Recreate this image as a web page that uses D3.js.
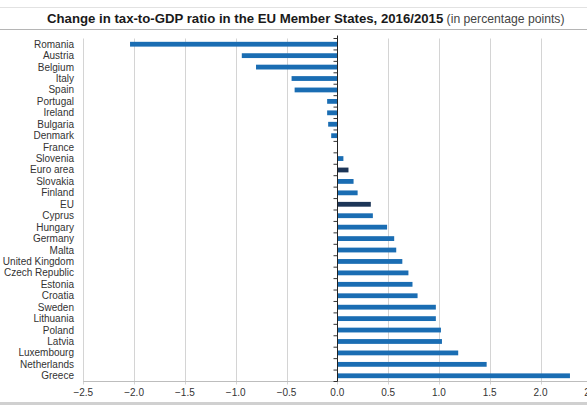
<!DOCTYPE html>
<html>
<head>
<meta charset="utf-8">
<script src="https://cdn.jsdelivr.net/npm/d3@7"></script>
<style>
  body { margin: 0; background: #fff; }
  svg { display: block; font-family: "Liberation Sans", Arial, sans-serif; }
</style>
</head>
<body>
<div id="chart"></div>
<script>
// countries, sorted as in the source chart
const countries = [
  "Romania", "Austria", "Belgium", "Italy", "Spain", "Portugal", "Ireland",
  "Bulgaria", "Denmark", "France", "Slovenia", "Euro area", "Slovakia",
  "Finland", "EU", "Cyprus", "Hungary", "Germany", "Malta", "United Kingdom",
  "Czech Republic", "Estonia", "Croatia", "Sweden", "Lithuania", "Poland",
  "Latvia", "Luxembourg", "Netherlands", "Greece"
];
// change in tax-to-GDP ratio, percentage points
const changes = [
  -2.04, -0.94, -0.80, -0.45, -0.42, -0.10, -0.10,
  -0.09, -0.06, 0.0, 0.06, 0.11, 0.16,
  0.20, 0.33, 0.35, 0.49, 0.56, 0.58, 0.64,
  0.70, 0.74, 0.79, 0.97, 0.97, 1.02,
  1.03, 1.19, 1.47, 2.29
];
const aggregates = ["Euro area", "EU"];
const xTicks = [-2.5, -2.0, -1.5, -1.0, -0.5, 0.0, 0.5, 1.0, 1.5, 2.0, 2.5];

const width = 587, height = 408;
const margin = { top: 38.5, left: 83.3, bottom: 381.5, right: 591.3 };

const data = countries.map((c, i) => ({ name: c, value: changes[i] }));

const x = d3.scaleLinear().domain([-2.5, 2.5]).range([margin.left, margin.right]);
const y = d3.scaleBand().domain(countries).range([margin.top, margin.bottom]).paddingInner(0.58).paddingOuter(0.29);

const svg = d3.select("#chart")
  .append("svg")
  .attr("width", width)
  .attr("height", height);

// frame lines
svg.append("line").attr("x1", 0).attr("x2", width).attr("y1", 7.5).attr("y2", 7.5)
  .attr("stroke", "#e2e2e2");
svg.append("line").attr("x1", 0).attr("x2", width).attr("y1", 29.5).attr("y2", 29.5)
  .attr("stroke", "#b5b5b5");
svg.append("rect").attr("x", 0).attr("y", 402).attr("width", width).attr("height", 3)
  .attr("fill", "#d0d0d0");

// title
const title = svg.append("text")
  .attr("x", 47)
  .attr("y", 22.5)
  .attr("fill", "#1a1a1a");
title.append("tspan")
  .attr("font-weight", "bold")
  .attr("font-size", "13.2px")
  .text("Change in tax-to-GDP ratio in the EU Member States, 2016/2015");
title.append("tspan")
  .attr("font-size", "12.2px")
  .attr("fill", "#444")
  .text(" (in percentage points)");

// vertical gridlines
svg.append("g")
  .selectAll("line")
  .data(xTicks)
  .join("line")
  .attr("x1", (d) => Math.round(x(d)) + 0.5)
  .attr("x2", (d) => Math.round(x(d)) + 0.5)
  .attr("y1", margin.top)
  .attr("y2", margin.bottom + 3)
  .attr("stroke", "#d4d4d4");

// bottom axis line
svg.append("line")
  .attr("x1", margin.left)
  .attr("x2", width)
  .attr("y1", margin.bottom)
  .attr("y2", margin.bottom)
  .attr("stroke", "#bdbdbd");

// x tick labels
svg.append("g")
  .selectAll("text")
  .data(xTicks)
  .join("text")
  .attr("x", (d) => x(d))
  .attr("y", 396)
  .attr("text-anchor", "middle")
  .attr("font-size", "10px")
  .attr("fill", "#333")
  .text((d) => d3.format(".1f")(d));

// bars
svg.append("g")
  .selectAll("rect")
  .data(data)
  .join("rect")
  .attr("x", (d) => x(Math.min(0, d.value)))
  .attr("y", (d) => y(d.name))
  .attr("width", (d) => Math.abs(x(d.value) - x(0)))
  .attr("height", y.bandwidth())
  .attr("fill", (d) => (aggregates.includes(d.name) ? "#1c3557" : "#1a6db3"));

// country labels
svg.append("g")
  .selectAll("text")
  .data(data)
  .join("text")
  .attr("x", 74)
  .attr("y", (d) => y(d.name) + y.bandwidth() / 2)
  .attr("dy", "0.35em")
  .attr("text-anchor", "end")
  .attr("font-size", "10px")
  .attr("fill", "#333")
  .text((d) => d.name);

// zero axis with ticks between rows
const zx = Math.round(x(0)) + 0.5;
svg.append("line")
  .attr("x1", zx).attr("x2", zx)
  .attr("y1", margin.top - 3)
  .attr("y2", margin.bottom)
  .attr("stroke", "#222");
const step = y.step();
svg.append("g")
  .selectAll("line")
  .data(d3.range(countries.length + 1))
  .join("line")
  .attr("x1", zx - 4)
  .attr("x2", zx)
  .attr("y1", (i) => margin.top + i * step)
  .attr("y2", (i) => margin.top + i * step)
  .attr("stroke", "#333");
</script>
</body>
</html>
